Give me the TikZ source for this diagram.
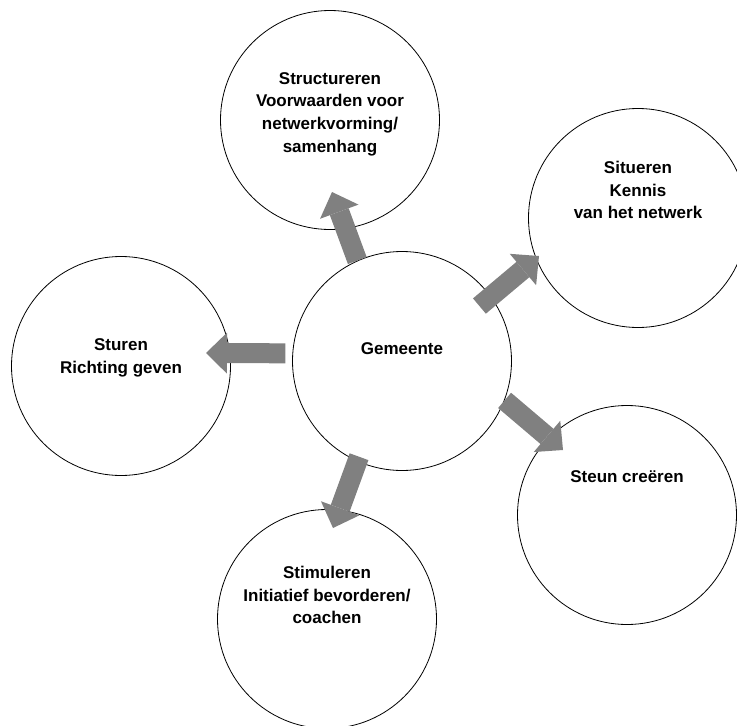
\documentclass[tikz,border=0pt]{standalone}
\usepackage{fontspec}
\setmainfont{Liberation Sans}
\usepackage{tikz}
\usetikzlibrary{arrows.meta,calc}
\definecolor{colorArrow}{HTML}{808080}

\begin{document}
\begin{tikzpicture}[x=1pt,y=-1pt,
        bubble/.style={draw=black,line width=0.8pt,circle,minimum size=219pt,inner sep=0pt},
        bubbletext/.style={font=\bfseries\fontsize{17}{22.7}\selectfont,align=center},
        blockarrow/.style={colorArrow,line width=20pt,-{Triangle[length=21pt,width=41pt,line width=0pt 0 0]}}]
    \useasboundingbox (0,0) rectangle (737,726);
    \node[bubble,label={[bubbletext,yshift=12pt]center:Gemeente}] (gem) at (402,361) {};
    \node[bubble,label={[bubbletext,yshift=6pt]center:Structureren\\Voorwaarden voor\\netwerkvorming/\\samenhang}] (struct) at (330,120) {};
    \node[bubble,label={[bubbletext,yshift=28pt]center:Situeren\\Kennis\\van het netwerk}] (situ) at (638,218) {};
    \node[bubble,label={[bubbletext,yshift=8pt]center:Sturen\\Richting geven}] (stuur) at (121,366) {};
    \node[bubble,label={[bubbletext,yshift=38pt]center:Steun creëren}] (steun) at (627,515) {};
    \node[bubble,label={[bubbletext,yshift=24pt]center:Stimuleren\\Initiatief bevorderen/\\coachen}] (stim) at (327,619) {};
    % arrow tips
    \coordinate (tipStruct) at (332,192);
    \coordinate (tipSitu) at (539,256);
    \coordinate (tipStuur) at (206,353);
    \coordinate (tipStim) at (333,528);
    \coordinate (tipSteun) at (563,450);
    \draw[blockarrow] (gem.114) -- (tipStruct);
    \draw[blockarrow,shorten <=-15pt] (gem.36) -- (tipSitu);
    \draw[blockarrow,shorten <=7pt] (gem.176) -- (tipStuur);
    \draw[blockarrow,shorten <=-5pt] (gem.246) -- (tipStim);
    \draw[blockarrow] (gem.-21) -- (tipSteun);
    % \draw[red] (gem.center) circle (2pt);
\end{tikzpicture}
\end{document}
